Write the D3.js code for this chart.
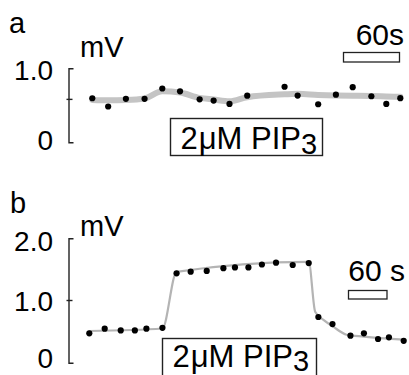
<!DOCTYPE html>
<html><head><meta charset="utf-8">
<script src="https://cdn.jsdelivr.net/npm/d3@7"></script>
<style>
html,body{margin:0;padding:0;background:#fff;}
svg{display:block;}
text{font-family:"Liberation Sans",Arial,Helvetica,sans-serif;fill:#000;}
</style></head>
<body>
<script>
// ---- Panel a data ----
const timeA = [0,17,36,56,75,94,115,130,147,166,206,220,242,261,279,299,315,330];
const valuesA = [0.595,0.484,0.588,0.588,0.727,0.689,0.581,0.564,0.518,0.630,0.751,0.632,0.514,0.643,0.745,0.622,0.518,0.596];
const fitTimeA = [0,17,36,56,75,94,115,130,147,166,206,220,242,261,279,299,315,330];
const fitValuesA = [0.573,0.568,0.572,0.592,0.690,0.673,0.600,0.578,0.555,0.610,0.648,0.655,0.640,0.632,0.628,0.626,0.620,0.615];
const tickLabelsA = ["0","1.0"];
const tickValuesA = [0,1.0];
const midTickA = 0.58;

// ---- Panel b data ----
const timeB = [0,24,49,71,89,114,136,158,183,209,227,248,269,291,317,342,357,379,407,428,450,467,490];
const valuesB = [0.473,0.547,0.519,0.519,0.547,0.561,1.437,1.463,1.476,1.519,1.532,1.532,1.579,1.608,1.571,1.601,0.735,0.621,0.434,0.473,0.381,0.408,0.352];
const fitTimeB = [0,114,136,342,352,366,380,401,428,490];
const fitValuesB = [0.51,0.55,1.46,1.62,0.82,0.68,0.58,0.45,0.42,0.37];
const tickLabelsB = ["0","1.0","2.0"];
const tickValuesB = [0,1.0,2.0];

const scaleBarSec = 60;

const W = 409, H = 375;
const svg = d3.select("body").append("svg").attr("width", W).attr("height", H);

function panel(cfg){
  const g = svg.append("g");
  const x = d3.scaleLinear().domain(cfg.xDomain).range(cfg.xRange);
  const y = d3.scaleLinear().domain(cfg.yDomain).range(cfg.yRange);

  g.append("text").attr("x", cfg.letterX).attr("y", cfg.letterY)
    .attr("font-size", 29).text(cfg.letter);
  g.append("text").attr("x", 80).attr("y", cfg.unitY)
    .attr("font-size", 29).text("mV");

  const ax = d3.axisRight(y).tickValues([]).tickSizeOuter(5);
  const axG = g.append("g").attr("transform", `translate(${cfg.axisX},0)`).call(ax);
  axG.select(".domain").attr("stroke", "#222").attr("stroke-width", 1.4);
  cfg.midTicks.forEach(v => {
    g.append("line").attr("x1", cfg.axisX - 2).attr("x2", cfg.axisX + 4)
      .attr("y1", y(v)).attr("y2", y(v)).attr("stroke", "#222").attr("stroke-width", 1.4);
  });
  cfg.tickValues.forEach((v, i) => {
    g.append("text").attr("x", 53).attr("y", y(v) + cfg.labelShift[i]).attr("dy", "0.36em")
      .attr("text-anchor", "end").attr("font-size", 28).text(cfg.tickLabels[i]);
  });

  g.append("path").datum(cfg.fitT.map((t, i) => [t, cfg.fitV[i]]))
    .attr("fill", "none").attr("stroke", cfg.fitColor).attr("stroke-width", cfg.fitWidth)
    .attr("stroke-linejoin", "round").attr("stroke-linecap", "round")
    .attr("d", d3.line().x(d => x(d[0])).y(d => y(d[1])).curve(d3.curveMonotoneX));

  g.selectAll("circle.pt").data(cfg.t.map((t, i) => [t, cfg.v[i]])).join("circle")
    .attr("class", "pt").attr("cx", d => x(d[0])).attr("cy", d => y(d[1]))
    .attr("r", 3.1).attr("fill", "#000");

  const barW = x(scaleBarSec) - x(0);
  g.append("rect").attr("x", cfg.barX).attr("y", cfg.barY).attr("width", barW).attr("height", cfg.barH)
    .attr("fill", "#fff").attr("stroke", "#222").attr("stroke-width", 1.3);
  g.append("text").attr("x", cfg.barTextX).attr("y", cfg.barTextY).attr("text-anchor", "end")
    .attr("font-size", 30).text(cfg.barText);

  g.append("rect").attr("x", cfg.boxX).attr("y", cfg.boxY).attr("width", cfg.boxW).attr("height", cfg.boxH)
    .attr("fill", "#fff").attr("stroke", "#222").attr("stroke-width", 1.4);
  const t = g.append("text").attr("x", cfg.boxX + 10).attr("y", cfg.boxY + cfg.textOff).attr("font-size", 31);
  t.append("tspan").text("2");
  t.append("tspan").attr("dx", 1).text("\u03BCM PIP");
  t.append("tspan").attr("dy", cfg.subDy).attr("font-size", 29).text("3");
}

panel({
  letter: "a", letterX: 9, letterY: 33, unitY: 57,
  xDomain: [0, 330], xRange: [92.3, 400.3],
  yDomain: [0, 1.0], yRange: [142.3, 68.3],
  axisX: 68.5, midTicks: [midTickA],
  tickValues: tickValuesA, tickLabels: tickLabelsA, labelShift: [-2, 2],
  t: timeA, v: valuesA, fitT: fitTimeA, fitV: fitValuesA,
  fitColor: "#c4c4c4", fitWidth: 6,
  barX: 343.5, barY: 52.5, barH: 9.5, barText: "60s", barTextX: 404, barTextY: 45,
  boxX: 170.5, boxY: 118.5, boxW: 152, boxH: 37, textOff: 30, subDy: 5
});

panel({
  letter: "b", letterX: 10, letterY: 213, unitY: 236,
  xDomain: [0, 490], xRange: [89.3, 403.7],
  yDomain: [0, 2.0], yRange: [362.7, 238.3],
  axisX: 68.5, midTicks: [1.0],
  tickValues: tickValuesB, tickLabels: tickLabelsB, labelShift: [-4.5, 0, 3],
  t: timeB, v: valuesB, fitT: fitTimeB, fitV: fitValuesB,
  fitColor: "#b4b4b4", fitWidth: 2.2,
  barX: 348.5, barY: 290.5, barH: 8.5, barText: "60 s", barTextX: 405, barTextY: 281,
  boxX: 162.5, boxY: 338.5, boxW: 154, boxH: 40, textOff: 28, subDy: 4
});
</script>
</body></html>
